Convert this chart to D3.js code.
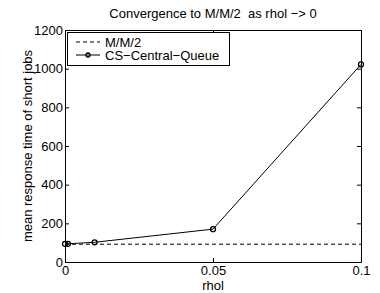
<!DOCTYPE html>
<html lang="en">
<head>
<meta charset="utf-8">
<title>Convergence</title>
<script src="https://cdn.jsdelivr.net/npm/d3@7"></script>
<style>
  body { margin: 0; background: #fff; }
  text { font-family: "Liberation Sans", Arial, sans-serif; fill: #000; white-space: pre; }
</style>
</head>
<body>
<script>
// data
var rhol = [0, 0.001, 0.01, 0.05, 0.1];
var csQueue = [94, 94, 102, 170, 1022];
var mm2 = 92;
var xTicks = [0, 0.05, 0.1];
var yTicks = [0, 200, 400, 600, 800, 1000, 1200];

var w = 380, h = 293;
var mLeft = 65, mRight = 361, mTop = 30, mBottom = 262;
var fs = "13px";

var svg = d3.select("body").append("svg").attr("width", w).attr("height", h);

var x = d3.scaleLinear().domain([0, 0.1]).range([mLeft, mRight]);
var y = d3.scaleLinear().domain([0, 1200]).range([mBottom, mTop]);

// frame + inward ticks on all sides
function ax(gen, tx, ty, ticks, fmt) {
  var g = svg.append("g").attr("transform", "translate(" + tx + "," + ty + ")")
    .call(gen.tickValues(ticks).tickSizeInner(-4).tickSizeOuter(0).tickFormat(fmt));
  g.select(".domain").attr("stroke", "#000").attr("stroke-width", 1);
  g.selectAll(".tick line").attr("stroke", "#000");
  g.selectAll("text").style("font-size", fs).attr("fill", "#000");
  return g;
}
var gx = ax(d3.axisBottom(x), 0, mBottom, xTicks, d3.format("~g"));
gx.selectAll("text").attr("y", 4);
var gy = ax(d3.axisLeft(y), mLeft, 0, yTicks, d3.format("d"));
gy.selectAll("text").attr("x", -2);
ax(d3.axisTop(x), 0, mTop, xTicks, "").selectAll("text").remove();
ax(d3.axisRight(y), mRight, 0, yTicks, "").selectAll("text").remove();

// M/M/2 reference line
svg.append("line")
  .attr("x1", x(0)).attr("x2", x(0.1))
  .attr("y1", y(mm2)).attr("y2", y(mm2))
  .attr("stroke", "#000").attr("stroke-dasharray", "4,3");

// CS-Central-Queue
var pts = rhol.map(function(d, i) { return [d, csQueue[i]]; });
svg.append("path").datum(pts)
  .attr("fill", "none").attr("stroke", "#000").attr("stroke-width", 1)
  .attr("d", d3.line().x(function(d) { return x(d[0]); }).y(function(d) { return y(d[1]); }));
svg.selectAll("circle.pt").data(pts).enter().append("circle")
  .attr("class", "pt")
  .attr("cx", function(d) { return x(d[0]); })
  .attr("cy", function(d) { return y(d[1]); })
  .attr("r", 2.5).attr("fill", "none").attr("stroke", "#000").attr("stroke-width", 1.3);

// title and labels
svg.append("text").attr("x", (mLeft + mRight) / 2).attr("y", 18)
  .attr("text-anchor", "middle").style("font-size", fs)
  .text("Convergence to M/M/2  as rhol \u2212> 0");
svg.append("text").attr("x", (mLeft + mRight) / 2).attr("y", 290)
  .attr("text-anchor", "middle").style("font-size", fs).text("rhol");
svg.append("text").attr("transform", "translate(32," + ((mTop + mBottom) / 2) + ") rotate(-90)")
  .attr("text-anchor", "middle").style("font-size", fs)
  .text("mean response time of short jobs");

// legend
var lg = svg.append("g");
lg.append("rect").attr("x", 67.5).attr("y", 32.5).attr("width", 162).attr("height", 33)
  .attr("fill", "#fff").attr("stroke", "#000").attr("stroke-width", 1);
lg.append("line").attr("x1", 76).attr("x2", 100).attr("y1", 42).attr("y2", 42)
  .attr("stroke", "#000").attr("stroke-dasharray", "4,3");
lg.append("line").attr("x1", 76).attr("x2", 100).attr("y1", 55).attr("y2", 55)
  .attr("stroke", "#000");
lg.append("circle").attr("cx", 88).attr("cy", 55).attr("r", 2)
  .attr("fill", "none").attr("stroke", "#000").attr("stroke-width", 1.3);
lg.append("text").attr("x", 105).attr("y", 47).style("font-size", fs).text("M/M/2");
lg.append("text").attr("x", 105).attr("y", 60).style("font-size", fs).text("CS\u2212Central\u2212Queue");
</script>
</body>
</html>
